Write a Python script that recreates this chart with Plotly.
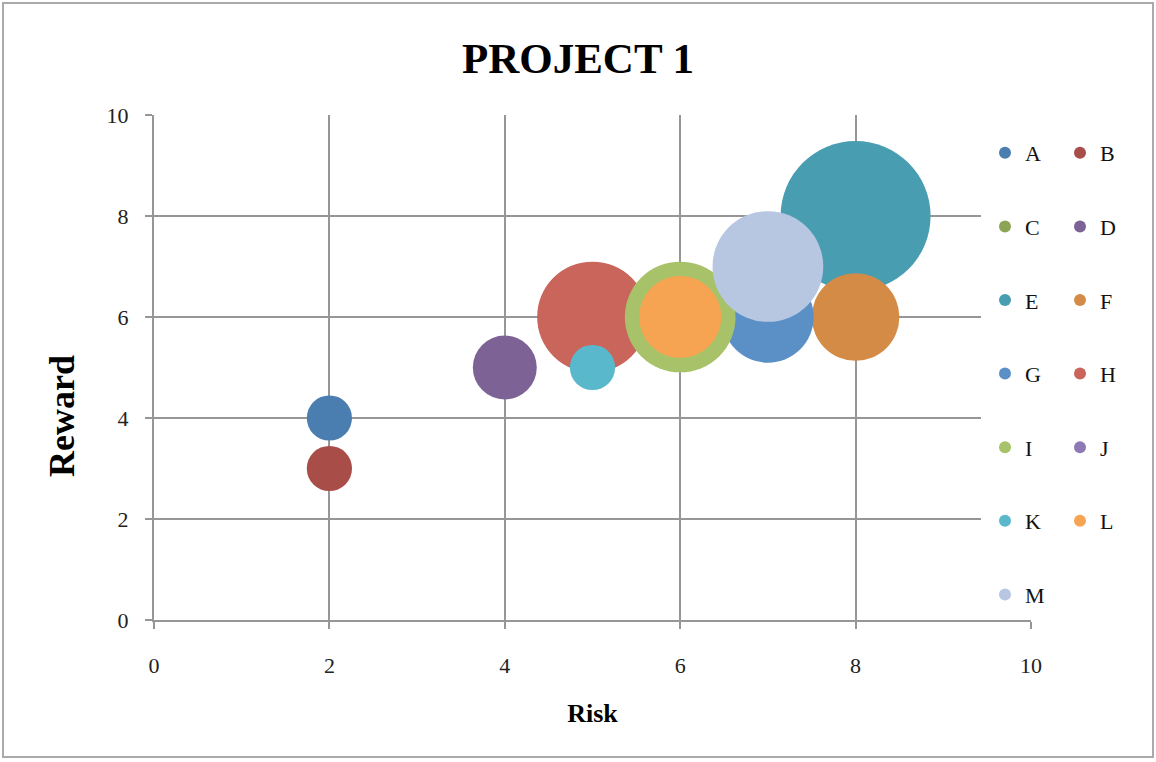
import plotly.graph_objects as go

# Project items: risk (x), reward (y) and relative bubble size
names = ["A", "B", "C", "D", "E", "F", "G", "H", "I", "J", "K", "L", "M"]
risk = [2, 2, 6, 4, 8, 8, 7, 5, 6, 7, 5, 6, 7]
reward = [4, 3, 6, 5, 8, 6, 6, 6, 6, 7, 5, 6, 7]
size = [1, 1, 3, 2, 11, 3.75, 4.1, 6, 6, 4, 1, 3.3, 6]
colors = ["#4A7EB1", "#A94D48", "#8CA455", "#7D6395", "#489DB1", "#D38B45",
          "#5A90C5", "#C9655B", "#A7C268", "#8E79B5", "#5AB8CC", "#F7A452",
          "#B7C6E1"]

x_ticks = [0, 2, 4, 6, 8, 10]
y_ticks = [0, 2, 4, 6, 8, 10]

W, H = 1156, 762
ML, MR, MT, MB = 154, 125, 115, 142
PW, PH = W - ML - MR, H - MT - MB


def px_x(p):
    return (p - ML) / PW


def px_y(p):
    return 1 - (p - MT) / PH


SIZEREF = 1 / 1022.0
FONT = "Liberation Serif"

fig = go.Figure()
for i, n in enumerate(names):
    col = 1 if i % 2 == 0 else 2
    fig.add_trace(go.Scatter(
        x=[risk[i]], y=[reward[i]], mode="markers", name=n,
        marker=dict(size=[size[i]], sizemode="area", sizeref=SIZEREF,
                    color=colors[i], line=dict(width=0), opacity=1),
        legend="legend" if col == 1 else "legend2",
        legendgroup=n,
    ))

axis_common = dict(
    showgrid=True, gridcolor="#969696", gridwidth=2,
    showline=True, linecolor="#969696", linewidth=2,
    ticks="outside", ticklen=7, tickcolor="#969696", tickwidth=2,
    zeroline=False, range=[0, 10],
    tickfont=dict(family=FONT, size=22, color="#222"),
    fixedrange=True,
)

legend_common = dict(
    bgcolor="rgba(0,0,0,0)", borderwidth=0,
    font=dict(family=FONT, size=22, color="#111"),
    tracegroupgap=42, itemsizing="constant",
    yanchor="top", xanchor="left",
)

fig.update_layout(
    width=W, height=H,
    margin=dict(l=ML, r=MR, t=MT, b=MB),
    paper_bgcolor="white", plot_bgcolor="white",
    title=dict(text="<b>PROJECT 1</b>", x=0.5, xref="container", xanchor="center",
               y=1 - 58 / H, yanchor="middle",
               font=dict(family=FONT, size=43, color="black")),
    xaxis=dict(axis_common, tickvals=x_ticks, ticklabelstandoff=18,
               title=dict(text="<b>Risk</b>", standoff=26,
                          font=dict(family=FONT, size=26, color="black"))),
    yaxis=dict(axis_common, tickvals=y_ticks, ticklabelstandoff=12),
    legend=dict(legend_common, x=px_x(985), y=px_y(132)),
    legend2=dict(legend_common, x=px_x(1060), y=px_y(132)),
    showlegend=True,
    annotations=[
        dict(text="<b>Reward</b>", textangle=-90, xref="paper", yref="paper",
             x=px_x(62), y=px_y(416), xanchor="center", yanchor="middle",
             showarrow=False, font=dict(family=FONT, size=36, color="black")),
    ],
    shapes=[
        # white panel behind the legend, hiding the grid there
        dict(type="rect", xref="paper", yref="paper",
             x0=px_x(981), x1=px_x(1125), y0=px_y(612), y1=px_y(114),
             fillcolor="white", line=dict(width=0), layer="above"),
        # outer chart frame
        dict(type="rect", xref="paper", yref="paper",
             x0=px_x(3), x1=px_x(1153), y0=px_y(757), y1=px_y(3),
             fillcolor="rgba(0,0,0,0)", line=dict(color="#aaaaaa", width=2),
             layer="above"),
    ],
)

fig.write_html("out.html")
